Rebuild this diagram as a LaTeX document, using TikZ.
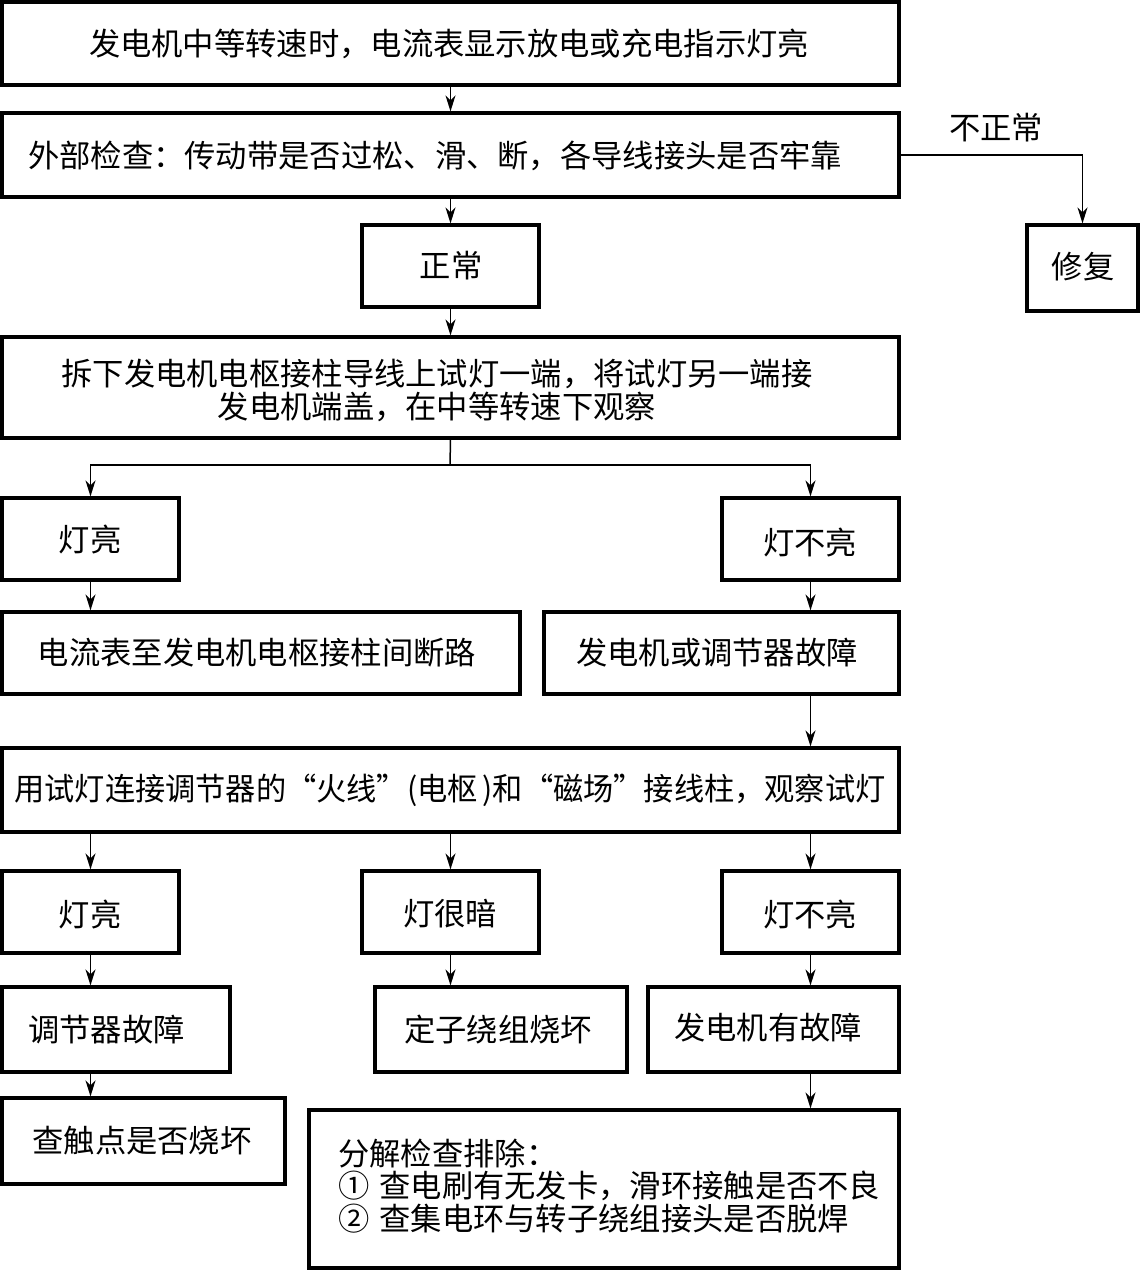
\documentclass[tikz,border=0pt]{standalone}
\usepackage{fontspec}
\usepackage{graphicx}
\newfontfamily\cjk{Noto Sans CJK SC}
\usetikzlibrary{arrows.meta}
\tikzset{
  box/.style={draw, line width=3.2pt, inner sep=0pt},
  txt/.style={font=\cjk\fontsize{31.3}{33}\selectfont, inner sep=0pt},
  conn/.style={line width=1.5pt, -{Stealth[length=16pt,width=10pt,inset=5pt]}},
  plain/.style={line width=1.5pt}
}
\newcommand{\bx}[5]{\node[box, minimum width={#4-#2}, minimum height={#5-#3}] (#1) at ({(#2+#4)/2},{(#3+#5)/2}) {};}
\begin{document}
\begin{tikzpicture}[x=1pt,y=-1pt]
\useasboundingbox (0,0) rectangle (1140,1270);
% boxes
\bx{b1}{2}{2}{899}{85}
\bx{b2}{2}{113}{899}{197}
\bx{fix}{1027}{225}{1138}{311}
\bx{ok}{362}{225}{539}{307}
\bx{b4}{2}{337}{899}{438}
\bx{l1}{2}{498}{179}{580}
\bx{r1}{722}{498}{899}{580}
\bx{l2}{2}{612}{520}{694}
\bx{r2}{544}{612}{899}{694}
\bx{b5}{2}{748}{899}{832}
\bx{ra}{2}{871}{179}{953}
\bx{rb}{362}{871}{539}{953}
\bx{rc}{722}{871}{899}{953}
\bx{rd}{2}{987}{230}{1072}
\bx{re}{375}{987}{627}{1072}
\bx{rf}{648}{987}{899}{1072}
\bx{rg}{2}{1098}{285}{1184}
\bx{rh}{309}{1110}{899}{1268}
% texts
\node[txt] (t1) at (449,44) {发电机中等转速时，电流表显示放电或充电指示灯亮};
\node[txt, anchor=west] (t2) at (28,156) {外部检查：传动带是否过松、滑、断，各导线接头是否牢靠};
\node[txt] (tfix) at (1083,267) {修复};
\node[txt] (tok) at (451,266) {正常};
\node[txt] (tbad) at (996,128) {不正常};
\node[txt, align=center] (t4) at (437,390) {拆下发电机电枢接柱导线上试灯一端，将试灯另一端接\\发电机端盖，在中等转速下观察};
\node[txt] (tl1) at (90,540) {灯亮};
\node[txt] (tr1) at (810,543) {灯不亮};
\node[txt] (tl2) at (257,653) {电流表至发电机电枢接柱间断路};
\node[txt] (tr2) at (717,653) {发电机或调节器故障};
\node[txt] (t5) at (450,790) {\scalebox{0.965}[1]{用试灯连接调节器的“火线”(电枢\,)和“磁场”接线柱，观察试灯}};
\node[txt] (tra) at (90,914) {灯亮};
\node[txt] (trb) at (450,914) {灯很暗};
\node[txt] (trc) at (810,914) {灯不亮};
\node[txt, anchor=west] (trd) at (28,1030) {调节器故障};
\node[txt] (tre) at (498,1030) {定子绕组烧坏};
\node[txt] (trf) at (768,1028) {发电机有故障};
\node[txt] (trg) at (142,1141) {查触点是否烧坏};
\node[txt, anchor=west, align=left, font=\cjk\fontsize{31.3}{32.5}\selectfont] (trh) at (338,1186) {分解检查排除：\\①\hspace{10pt}查电刷有无发卡，滑环接触是否不良\\②\hspace{10pt}查集电环与转子绕组接头是否脱焊};
% connectors
\draw[conn] (b1.south) -- (b2.north);
\draw[conn] (b2.south) -- (ok.north);
\draw[conn] (ok.south) -- (b4.north);
\draw[conn] (b2.east) -| (fix.north);
\coordinate (br) at (450,465);
\draw[plain] (b4.south) -- (br);
\draw[conn] (br) -| (l1.north);
\draw[conn] (br) -| (r1.north);
\draw[conn] (l1.south) -- (l1.south |- l2.north);
\draw[conn] (r1.south) -- (r1.south |- r2.north);
\draw[conn] (r1.south |- r2.south) -- (r1.south |- b5.north);
\draw[conn] (ra.north |- b5.south) -- (ra.north);
\draw[conn] (rb.north |- b5.south) -- (rb.north);
\draw[conn] (rc.north |- b5.south) -- (rc.north);
\draw[conn] (ra.south) -- (ra.south |- rd.north);
\draw[conn] (rb.south) -- (rb.south |- re.north);
\draw[conn] (rc.south) -- (rc.south |- rf.north);
\draw[conn] (ra.south |- rd.south) -- (ra.south |- rg.north);
\draw[conn] (rc.south |- rf.south) -- (rc.south |- rh.north);
\end{tikzpicture}
\end{document}
